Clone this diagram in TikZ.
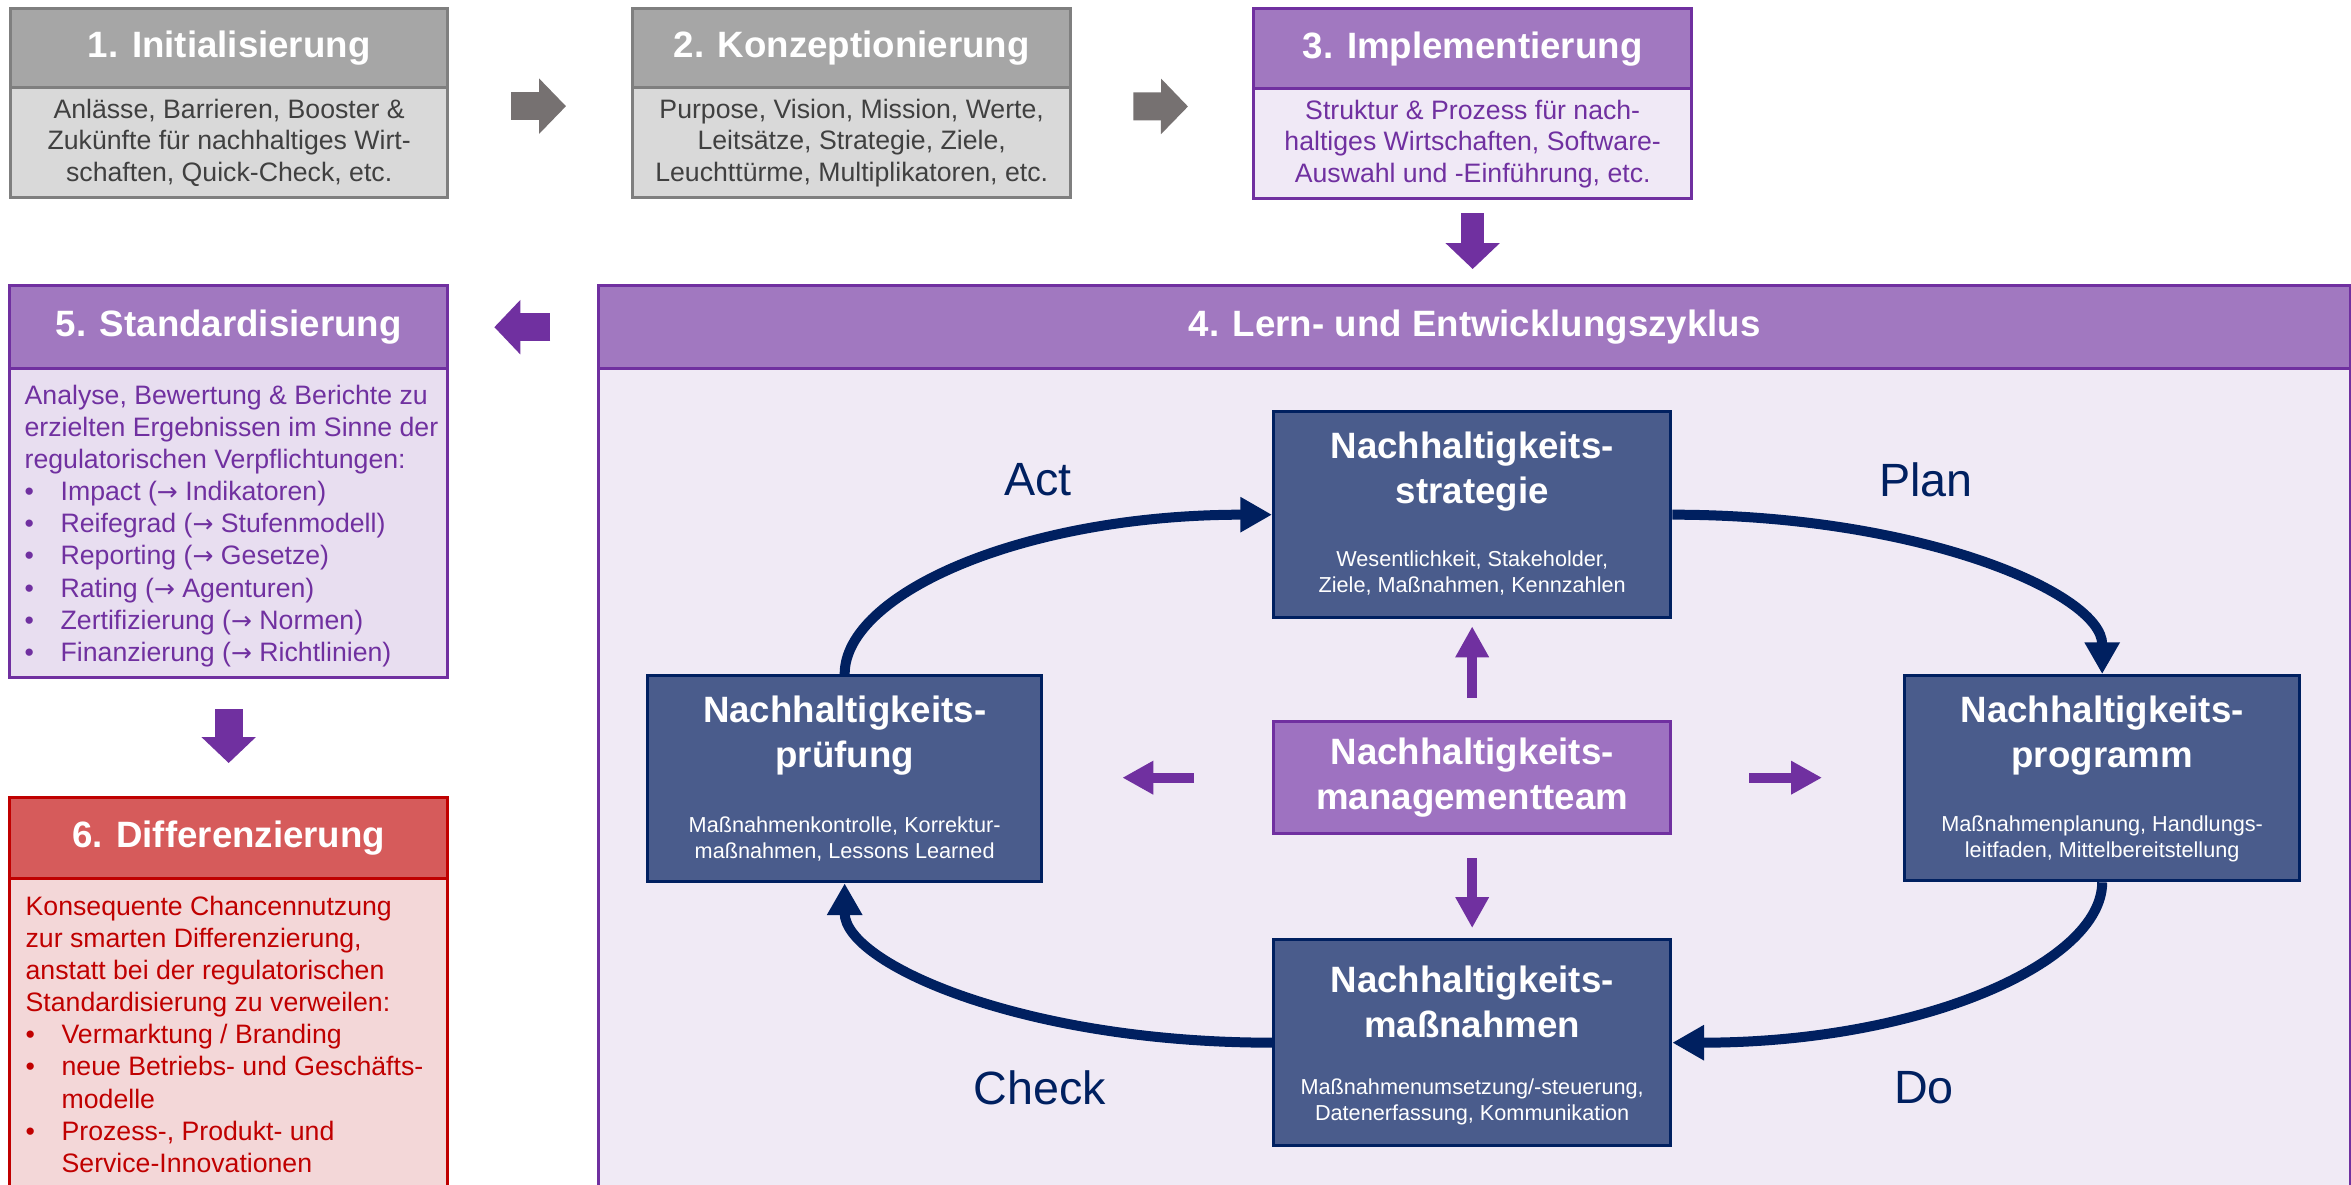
\documentclass[tikz,border=0pt]{standalone}
\usepackage{fontspec}
\setmainfont{Liberation Sans}
\newfontfamily\ArrFont{DejaVu Sans}
\usetikzlibrary{arrows.meta,calc}
\definecolor{grayhdr}{HTML}{A6A6A6}
\definecolor{graybody}{HTML}{D9D9D9}
\definecolor{grayline}{HTML}{7F7F7F}
\definecolor{graytext}{HTML}{404040}
\definecolor{grayarrow}{HTML}{767171}
\definecolor{purp}{HTML}{7030A0}
\definecolor{purphdr}{HTML}{A178C0}
\definecolor{purpbodyA}{HTML}{F0E9F6}
\definecolor{purpbodyB}{HTML}{E8DEF0}
\definecolor{lernbg}{HTML}{F0EAF5}
\definecolor{teamfill}{HTML}{9E72C1}
\definecolor{redhdr}{HTML}{D65B5B}
\definecolor{redline}{HTML}{C00000}
\definecolor{redbody}{HTML}{F3D7D8}
\definecolor{navyfill}{HTML}{4A5C8C}
\definecolor{navy}{HTML}{002060}
\newcommand\HdrFont{\fontsize{11}{13}\selectfont\bfseries}
\newcommand\BodyFont{\fontsize{8}{9.45}\selectfont}
\newcommand\ListFont{\fontsize{8}{9.65}\selectfont}
\newcommand\TitleFont{\fontsize{11}{13.5}\selectfont\bfseries}
\newcommand\SubFont{\fontsize{6.5}{7.8}\selectfont}
\newcommand\CycFont{\fontsize{14}{16}\selectfont}
\newcommand\BulItem{\makebox[10.8pt][l]{\textbullet}}
\newcommand\BulCont{\hspace*{10.8pt}}
\newcommand\Arr{{\ArrFont\fontsize{7.5}{9.65}\selectfont →}}
\newcommand\pw[1]{#1*0.3pt}
\begin{document}
\begin{tikzpicture}[x=0.3pt,y=0.3pt,
  box/.style={rectangle, anchor=north west, inner sep=0pt, line width=1pt},
  ghdr/.style={box, fill=grayhdr, draw=grayline, text=white, font=\HdrFont},
  gbody/.style={box, fill=graybody, draw=grayline, text=graytext, font=\BodyFont, align=center},
  phdr/.style={box, fill=purphdr, draw=purp, text=white, font=\HdrFont},
  pbody/.style={box, fill=purpbodyA, draw=purp, text=purp, font=\BodyFont, align=center},
  rhdr/.style={box, fill=redhdr, draw=redline, text=white, font=\HdrFont},
  navybox/.style={box, fill=navyfill, draw=navy},
  titletext/.style={inner sep=0pt, align=center, text=white, font=\TitleFont},
  subtext/.style={inner sep=0pt, align=center, text=white, font=\SubFont},
  listtext/.style={anchor=north west, inner sep=0pt, align=left, font=\ListFont},
  cyclbl/.style={inner sep=0pt, text=navy, font=\CycFont},
  cycarrow/.style={draw=navy, line width=3pt, -{Triangle[length=9.5pt,width=10pt]}},
  smallarrow/.style={draw=purp, line width=3pt, -{Triangle[length=9.3pt,width=9.5pt]}},
  grayblock/.style={draw=grayarrow, line width=8.4pt, -{Triangle[length=8.1pt,width=16.2pt]}},
  purpblock/.style={draw=purp, line width=8.4pt, -{Triangle[length=7.8pt,width=15.9pt]}}
]
\useasboundingbox (0,0) rectangle (2351,-1184);
\clip (0,0) rectangle (2351,-1184);
\fill[white] (0,0) rectangle (2351,-1184);

% Stage 1-3
\node[ghdr, minimum width=\pw{437}, minimum height=\pw{79}] (b1h) at (9,-7) {1. Initialisierung};
\node[gbody, minimum width=\pw{437}, minimum height=\pw{110}] (b1b) at (9,-86)
  {Anlässe, Barrieren, Booster \&\\Zukünfte für nachhaltiges Wirt-\\schaften, Quick-Check, etc.};
\node[ghdr, minimum width=\pw{438}, minimum height=\pw{79}] (b2h) at (631,-7) {2. Konzeptionierung};
\node[gbody, minimum width=\pw{438}, minimum height=\pw{110}] (b2b) at (631,-86)
  {Purpose, Vision, Mission, Werte,\\Leitsätze, Strategie, Ziele,\\Leuchttürme, Multiplikatoren, etc.};
\node[phdr, minimum width=\pw{438}, minimum height=\pw{80}] (b3h) at (1252,-7) {3. Implementierung};
\node[pbody, minimum width=\pw{438}, minimum height=\pw{110}] (b3b) at (1252,-87)
  {Struktur \& Prozess für nach-\\haltiges Wirtschaften, Software-\\Auswahl und -Einführung, etc.};

% Stage 4
\node[box, fill=lernbg, draw=purp, minimum width=\pw{1752}, minimum height=\pw{860}] (lernb) at (597,-367) {};
\node[phdr, minimum width=\pw{1752}, minimum height=\pw{83}] (lernh) at (597,-284) {4. Lern- und Entwicklungszyklus};

% Stage 5
\node[phdr, minimum width=\pw{438}, minimum height=\pw{83}] (b5h) at (8,-284) {5. Standardisierung};
\node[box, fill=purpbodyB, draw=purp, minimum width=\pw{438}, minimum height=\pw{309}] (b5b) at (8,-367) {};
\node[listtext, text=purp] (b5t) at (24,-384)
  {Analyse, Bewertung \& Berichte zu\\
   erzielten Ergebnissen im Sinne der\\
   regulatorischen Verpflichtungen:\\
   \BulItem Impact (\Arr\ Indikatoren)\\
   \BulItem Reifegrad (\Arr\ Stufenmodell)\\
   \BulItem Reporting (\Arr\ Gesetze)\\
   \BulItem Rating (\Arr\ Agenturen)\\
   \BulItem Zertifizierung (\Arr\ Normen)\\
   \BulItem Finanzierung (\Arr\ Richtlinien)};

% Stage 6
\node[rhdr, minimum width=\pw{438}, minimum height=\pw{81}] (b6h) at (8,-796) {6. Differenzierung};
\node[box, fill=redbody, draw=redline, minimum width=\pw{438}, minimum height=\pw{340}] (b6b) at (8,-877) {};
\node[listtext, text=redline] (b6t) at (25,-895)
  {Konsequente Chancennutzung\\
   zur smarten Differenzierung,\\
   anstatt bei der regulatorischen\\
   Standardisierung zu verweilen:\\
   \BulItem Vermarktung / Branding\\
   \BulItem neue Betriebs- und Geschäfts-\\
   \BulCont modelle\\
   \BulItem Prozess-, Produkt- und\\
   \BulCont Service-Innovationen};

% Stage arrows
\draw[grayblock, shorten <=18.6pt, shorten >=19.5pt]
  ($(b1h.north east)!.5!(b1b.south east)+(0,-3)$) -- ($(b2h.north west)!.5!(b2b.south west)+(0,-3)$);
\draw[grayblock, shorten <=18.3pt, shorten >=19.2pt]
  ($(b2h.north east)!.5!(b2b.south east)+(0,-3)$) -- ($(b3h.north west)!.5!(b3b.south west)+(0,-3)$);
\draw[purpblock, line width=6.9pt, shorten <=3.9pt, shorten >=4.5pt]
  (b3b.south) -- (b3b.south |- lernh.north);
\draw[purpblock, shorten <=14.1pt, shorten >=13.5pt]
  (lernh.west) -- (lernh.west -| b5h.east);
\draw[purpblock, shorten <=9pt, shorten >=9.9pt]
  (b5b.south) -- (b5b.south |- b6h.north);

% Inner cycle boxes
\node[navybox, minimum width=\pw{397}, minimum height=\pw{206}] (strat) at (1272,-410) {};
\node[navybox, minimum width=\pw{394}, minimum height=\pw{206}] (pruef) at (646,-674) {};
\node[navybox, minimum width=\pw{395}, minimum height=\pw{205}] (prog) at (1903,-674) {};
\node[navybox, minimum width=\pw{397}, minimum height=\pw{206}] (mass) at (1272,-938) {};
\node[box, fill=teamfill, draw=purp, text=white, font=\TitleFont, align=center,
      minimum width=\pw{397}, minimum height=\pw{112}] (team) at (1272,-720)
  {Nachhaltigkeits-\\managementteam};

\node[titletext] (strat-t) at ($(strat.north)+(0,-62)$) {Nachhaltigkeits-\\strategie};
\node[subtext] (strat-s) at ($(strat.north)+(0,-163)$) {Wesentlichkeit, Stakeholder,\\Ziele, Maßnahmen, Kennzahlen};
\node[titletext] (pruef-t) at ($(pruef.north)+(0,-62)$) {Nachhaltigkeits-\\prüfung};
\node[subtext] (pruef-s) at ($(pruef.north)+(0,-165)$) {Maßnahmenkontrolle, Korrektur-\\maßnahmen, Lessons Learned};
\node[titletext] (prog-t) at ($(prog.north)+(0,-62)$) {Nachhaltigkeits-\\programm};
\node[subtext] (prog-s) at ($(prog.north)+(0,-165)$) {Maßnahmenplanung, Handlungs-\\leitfaden, Mittelbereitstellung};
\node[titletext] (mass-t) at ($(mass.north)+(0,-64)$) {Nachhaltigkeits-\\maßnahmen};
\node[subtext] (mass-s) at ($(mass.north)+(0,-164)$) {Maßnahmenumsetzung/-steuerung,\\Datenerfassung, Kommunikation};

% Cycle arrows
\draw[cycarrow] (pruef.north) to[out=90, in=180, out distance=24pt, in distance=75pt] (strat.west);
\draw[cycarrow] (strat.east) to[out=0, in=90, out distance=75pt, in distance=24pt] (prog.north);
\draw[cycarrow] (prog.south) to[out=-90, in=0, out distance=24pt, in distance=75pt] (mass.east);
\draw[cycarrow] (mass.west) to[out=180, in=-90, out distance=75pt, in distance=24pt] (pruef.south);

% Team arrows
\draw[smallarrow, shorten <=6.6pt, shorten >=2.1pt] (team.north) -- (strat.south);
\draw[smallarrow, shorten <=6.9pt, shorten >=3pt] (team.south) -- (mass.north);
\draw[smallarrow, shorten <=23.4pt, shorten >=23.7pt] (team.west) -- (team.west -| pruef.east);
\draw[smallarrow, shorten <=23.1pt, shorten >=24.3pt] (team.east) -- (team.east -| prog.west);

% Cycle labels
\node[cyclbl] (lact) at (1038,-480) {Act};
\node[cyclbl] (lplan) at (1926,-480) {Plan};
\node[cyclbl] (lcheck) at (1040,-1088) {Check};
\node[cyclbl] (ldo) at (1924,-1088) {Do};
\end{tikzpicture}
\end{document}
